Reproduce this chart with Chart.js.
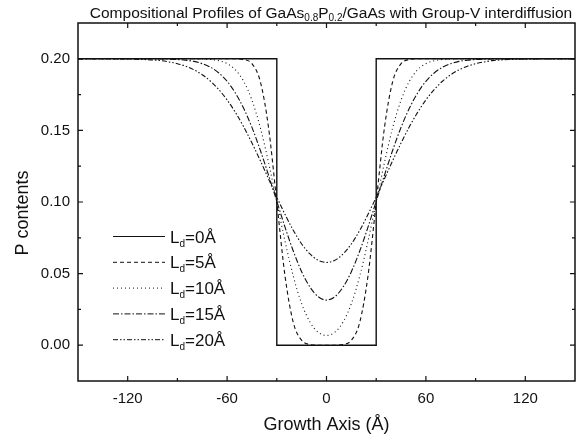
<!DOCTYPE html>
<html>
<head>
    <title>Compositional Profiles of GaAs0.8P0.2/GaAs</title>
    <script src="https://cdn.jsdelivr.net/npm/chart.js"></script>
    <style>
        body { margin: 0; background: #fff; }
        .chart-box { width: 577px; height: 441px; position: relative; }
    </style>
</head>
<body>
    <div class="chart-box"><canvas id="profileChart"></canvas></div>

    <script>
    // growth axis positions (Angstrom) for the interdiffused profiles
    const growthAxis = [-150, -145, -140, -135, -130, -125, -120, -115, -110, -105,
                        -100, -95, -90, -85, -80, -75, -70, -65, -60, -55,
                        -50, -45, -40, -35, -30, -25, -20, -15, -10, -5,
                        0,
                        5, 10, 15, 20, 25, 30, 35, 40, 45, 50,
                        55, 60, 65, 70, 75, 80, 85, 90, 95, 100,
                        105, 110, 115, 120, 125, 130, 135, 140, 145, 150];

    // as-grown square well (Ld = 0)
    const ld0X = [-150, -30, -30, 30, 30, 150];
    const ld0Y = [0.2, 0.2, 0.0, 0.0, 0.2, 0.2];

    const ld5 = [0.2, 0.2, 0.2, 0.2, 0.2, 0.2, 0.2, 0.2, 0.2, 0.2,
                 0.2, 0.2, 0.2, 0.2, 0.2, 0.2, 0.2, 0.2, 0.2, 0.2,
                 0.1995, 0.1966, 0.1843, 0.1521, 0.100, 0.048, 0.0157, 0.0034, 0.0005, 0.0,
                 0.0,
                 0.0, 0.0005, 0.0034, 0.0157, 0.048, 0.100, 0.1521, 0.1843, 0.1966, 0.1995,
                 0.2, 0.2, 0.2, 0.2, 0.2, 0.2, 0.2, 0.2, 0.2, 0.2,
                 0.2, 0.2, 0.2, 0.2, 0.2, 0.2, 0.2, 0.2, 0.2, 0.2];

    const ld10 = [0.2, 0.2, 0.2, 0.2, 0.2, 0.2, 0.2, 0.2, 0.2, 0.2,
                  0.2, 0.2, 0.2, 0.2, 0.2, 0.1999, 0.1995, 0.1987, 0.1966, 0.1923,
                  0.1843, 0.1711, 0.1521, 0.1276, 0.100, 0.0724, 0.048, 0.029, 0.0162, 0.009,
                  0.0068,
                  0.009, 0.0162, 0.029, 0.048, 0.0724, 0.100, 0.1276, 0.1521, 0.1711, 0.1843,
                  0.1923, 0.1966, 0.1987, 0.1995, 0.1999, 0.2, 0.2, 0.2, 0.2, 0.2,
                  0.2, 0.2, 0.2, 0.2, 0.2, 0.2, 0.2, 0.2, 0.2, 0.2];

    const ld15 = [0.2, 0.2, 0.2, 0.2, 0.2, 0.2, 0.2, 0.2, 0.2, 0.2,
                  0.1999, 0.1998, 0.1995, 0.199, 0.1982, 0.1966, 0.1941, 0.1901, 0.1843, 0.1761,
                  0.1654, 0.1521, 0.1363, 0.1188, 0.1005, 0.0823, 0.0656, 0.0513, 0.0406, 0.0338,
                  0.0315,
                  0.0338, 0.0406, 0.0513, 0.0656, 0.0823, 0.1005, 0.1188, 0.1363, 0.1521, 0.1654,
                  0.1761, 0.1843, 0.1901, 0.1941, 0.1966, 0.1982, 0.199, 0.1995, 0.1998, 0.1999,
                  0.2, 0.2, 0.2, 0.2, 0.2, 0.2, 0.2, 0.2, 0.2, 0.2];

    const ld20 = [0.2, 0.2, 0.2, 0.2, 0.2, 0.1999, 0.1999, 0.1997, 0.1995, 0.1992,
                  0.1987, 0.1978, 0.1966, 0.1948, 0.1923, 0.1889, 0.1843, 0.1785, 0.1713, 0.1626,
                  0.1525, 0.1412, 0.129, 0.1162, 0.1034, 0.0912, 0.0801, 0.0707, 0.0637, 0.0593,
                  0.0578,
                  0.0593, 0.0637, 0.0707, 0.0801, 0.0912, 0.1034, 0.1162, 0.129, 0.1412, 0.1525,
                  0.1626, 0.1713, 0.1785, 0.1843, 0.1889, 0.1923, 0.1948, 0.1966, 0.1978, 0.1987,
                  0.1992, 0.1995, 0.1997, 0.1999, 0.1999, 0.2, 0.2, 0.2, 0.2, 0.2];

    const diffLengths = [0, 5, 10, 15, 20];

    const xTicks = [-120, -60, 0, 60, 120];
    const xMinor = [-90, -30, 30, 90];
    const yTicks = [0.00, 0.05, 0.10, 0.15, 0.20];
    const yMinor = [0.025, 0.075, 0.125, 0.175];

    const FONT = '"Liberation Sans", Arial, sans-serif';
    const INK = '#111';

    function points(xv, yv) {
        return xv.map((x, i) => ({ x: x, y: yv[i] }));
    }

    function profile(idx, xv, yv, dash) {
        return {
            label: 'Ld=' + diffLengths[idx],
            data: points(xv, yv),
            borderColor: INK,
            borderWidth: idx === 0 ? 1.4 : 1.1,
            borderDash: dash,
            pointRadius: 0,
            fill: false,
            cubicInterpolationMode: idx === 0 ? 'default' : 'monotone',
            tension: 0
        };
    }

    // draws text made of normal and subscript pieces, returns end x
    function drawRich(ctx, parts, x, y, size, subSize, subDrop) {
        parts.forEach(p => {
            ctx.font = (p.sub ? subSize : size) + 'px ' + FONT;
            ctx.fillText(p.t, x, p.sub ? y + subDrop : y);
            x += ctx.measureText(p.t).width;
        });
        return x;
    }

    function richWidth(ctx, parts, size, subSize) {
        let w = 0;
        parts.forEach(p => {
            ctx.font = (p.sub ? subSize : size) + 'px ' + FONT;
            w += ctx.measureText(p.t).width;
        });
        return w;
    }

    const decorations = {
        id: 'decorations',
        afterDraw(chart) {
            const { ctx, chartArea: a, scales } = chart;
            const sx = scales.x, sy = scales.y;
            ctx.save();

            // frame
            ctx.strokeStyle = INK;
            ctx.lineWidth = 1.5;
            ctx.setLineDash([]);
            ctx.strokeRect(a.left, a.top, a.right - a.left, a.bottom - a.top);

            // inward ticks on all four sides
            ctx.lineWidth = 1.2;
            ctx.beginPath();
            const xt = (v, len) => {
                const p = sx.getPixelForValue(v);
                ctx.moveTo(p, a.bottom); ctx.lineTo(p, a.bottom - len);
                ctx.moveTo(p, a.top); ctx.lineTo(p, a.top + len);
            };
            const yt = (v, len) => {
                const p = sy.getPixelForValue(v);
                ctx.moveTo(a.left, p); ctx.lineTo(a.left + len, p);
                ctx.moveTo(a.right, p); ctx.lineTo(a.right - len, p);
            };
            xTicks.forEach(v => xt(v, 5));
            xMinor.forEach(v => xt(v, 3));
            yTicks.forEach(v => yt(v, 5));
            yMinor.forEach(v => yt(v, 3));
            ctx.stroke();

            ctx.fillStyle = INK;
            ctx.textBaseline = 'alphabetic';
            ctx.textAlign = 'left';

            // title
            const title = [
                { t: 'Compositional Profiles of GaAs' },
                { t: '0.8', sub: true },
                { t: 'P' },
                { t: '0.2', sub: true },
                { t: '/GaAs with Group-V interdiffusion' }
            ];
            const tw = richWidth(ctx, title, 15.5, 10);
            drawRich(ctx, title, 331 - tw / 2, 18, 15.5, 10, 3);

            // axis titles
            ctx.font = '18px ' + FONT;
            ctx.textAlign = 'center';
            ctx.fillText('Growth Axis (\u00C5)', (a.left + a.right) / 2, 430);
            ctx.save();
            ctx.translate(28, 213);
            ctx.rotate(-Math.PI / 2);
            ctx.fillText('P contents', 0, 0);
            ctx.restore();

            // legend with subscript d
            ctx.textAlign = 'left';
            chart.data.datasets.forEach((ds, i) => {
                const rowY = 236.5 + i * 25.8;
                ctx.strokeStyle = INK;
                ctx.lineWidth = 1;
                ctx.setLineDash(ds.borderDash || []);
                ctx.beginPath();
                ctx.moveTo(113, rowY);
                ctx.lineTo(165, rowY);
                ctx.stroke();
                ctx.setLineDash([]);
                drawRich(ctx, [
                    { t: 'L' },
                    { t: 'd', sub: true },
                    { t: '=' + diffLengths[i] + '\u00C5' }
                ], 170, rowY + 6, 17, 10, 4);
            });

            ctx.restore();
        }
    };

    new Chart(document.getElementById('profileChart'), {
        type: 'line',
        data: {
            datasets: [
                profile(0, ld0X, ld0Y, []),
                profile(1, growthAxis, ld5, [4, 3]),
                profile(2, growthAxis, ld10, [1, 3]),
                profile(3, growthAxis, ld15, [6, 2, 1.5, 2]),
                profile(4, growthAxis, ld20, [5, 2, 1.5, 2, 1.5, 2])
            ]
        },
        options: {
            responsive: true,
            maintainAspectRatio: false,
            animation: false,
            layout: { padding: { top: 23, right: 2, left: 0, bottom: 0 } },
            plugins: {
                legend: { display: false },
                tooltip: { enabled: false }
            },
            scales: {
                x: {
                    type: 'linear',
                    min: -150,
                    max: 150,
                    afterFit: s => { s.height = 60; },
                    afterBuildTicks: s => { s.ticks = xTicks.map(v => ({ value: v })); },
                    grid: { display: false, drawTicks: false },
                    border: { display: false },
                    ticks: {
                        color: INK,
                        padding: 9,
                        maxRotation: 0,
                        font: { family: FONT, size: 15 },
                        callback: v => String(v)
                    }
                },
                y: {
                    type: 'linear',
                    min: -0.025,
                    max: 0.225,
                    afterFit: s => { s.width = 78; },
                    afterBuildTicks: s => { s.ticks = yTicks.map(v => ({ value: v })); },
                    grid: { display: false, drawTicks: false },
                    border: { display: false },
                    ticks: {
                        color: INK,
                        padding: 8,
                        font: { family: FONT, size: 15 },
                        callback: v => v.toFixed(2)
                    }
                }
            }
        },
        plugins: [decorations]
    });
    </script>
</body>
</html>
